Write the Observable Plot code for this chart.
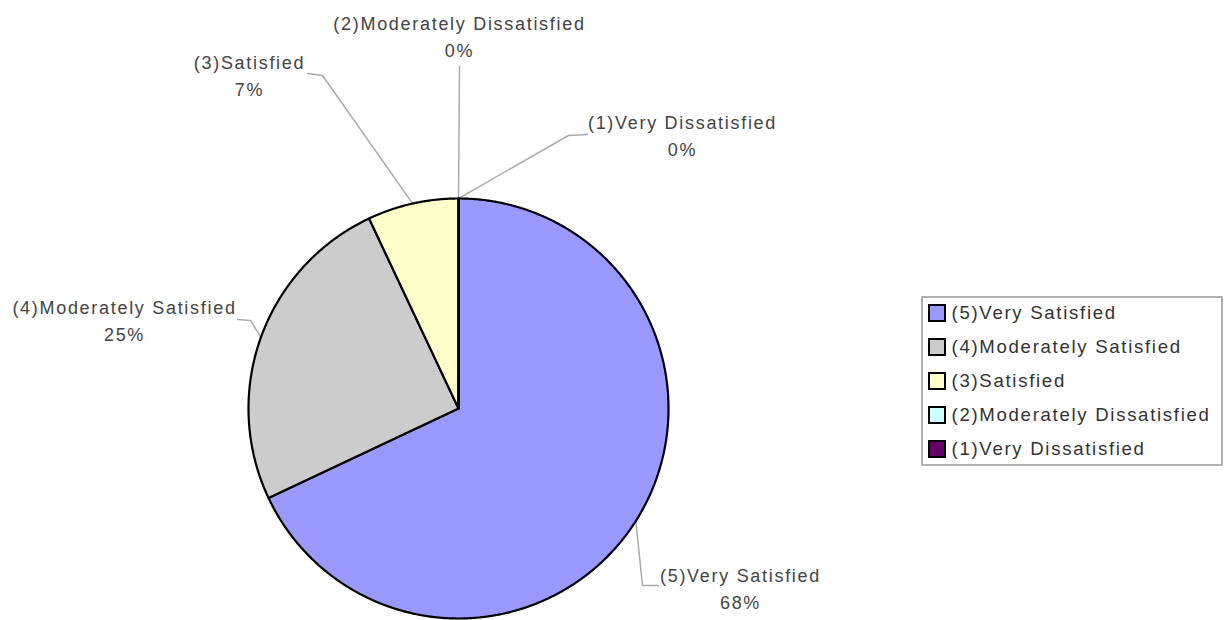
<!DOCTYPE html>
<html>
<head>
<meta charset="utf-8">
<script src="https://cdn.jsdelivr.net/npm/d3@7"></script>
<script src="https://cdn.jsdelivr.net/npm/@observablehq/plot@0.6"></script>
<style>
  html, body { margin: 0; padding: 0; background: #fff; }
  #chart svg { display: block; }
</style>
</head>
<body>
<div id="chart"></div>
<script>
// ---- data ----
const categories = ["(5)Very Satisfied", "(4)Moderately Satisfied", "(3)Satisfied", "(2)Moderately Dissatisfied", "(1)Very Dissatisfied"];
const percents = [68, 25, 7, 0, 0];
const colors = ["#9999FF", "#CCCCCC", "#FFFFCC", "#CCFFFF", "#660066"];

// ---- layout (pixels) ----
const W = 1230, H = 620;
const pieC = {cx: 458, cy: 408, r: 210};
// leader line elbow/end and label centre for each category
const labelElbow = [[642, 585], [250, 320], [322, 75], [459, 66], [568, 135]];
const labelEnd   = [[658, 585], [237, 319], [307, 73], [459, 66], [587, 134]];
const labelText  = [[740, 586], [124, 318], [249, 73], [459, 34], [682, 133]];
const legendBox = {x1: 922, x2: 1222, y1: 297, y2: 465};
const legendRow0 = 313, legendRowStep = 34, legendSwatchX = 929, legendSwatch = 16, legendTextX = 951;

const data = categories.map((c, i) => ({category: c, value: percents[i], i}));
const arcs = d3.pie().sort(null).value(d => d.value)(data);

const px = (a, r) => pieC.cx + r * Math.sin(a);
const py = (a, r) => pieC.cy - r * Math.cos(a);

// slice polygons
const sliceRows = [];
for (const a of arcs) {
  const c = a.data.category;
  sliceRows.push({category: c, x: pieC.cx, y: pieC.cy});
  const n = Math.max(2, Math.ceil((a.endAngle - a.startAngle) / 0.005));
  for (let k = 0; k <= n; k++) {
    const t = a.startAngle + (a.endAngle - a.startAngle) * k / n;
    sliceRows.push({category: c, x: px(t, pieC.r), y: py(t, pieC.r)});
  }
  sliceRows.push({category: c, x: pieC.cx, y: pieC.cy});
}

// leader lines
const leaderRows = [];
arcs.forEach((a, i) => {
  const c = a.data.category;
  const m = (a.startAngle + a.endAngle) / 2;
  leaderRows.push({category: c, x: px(m, pieC.r), y: py(m, pieC.r)});
  leaderRows.push({category: c, x: labelElbow[i][0], y: labelElbow[i][1]});
  leaderRows.push({category: c, x: labelEnd[i][0], y: labelEnd[i][1]});
});

const labelRows = arcs.map((a, i) => ({
  category: a.data.category,
  x: labelText[i][0], y: labelText[i][1],
  text: `${a.data.category}\n${Math.round(a.data.value)}%`
}));

const legendRows = categories.map((c, i) => ({
  category: c,
  y: legendRow0 + i * legendRowStep
}));

const chart = Plot.plot({
  width: W,
  height: H,
  margin: 0,
  x: {domain: [0, W], range: [0, W], axis: null},
  y: {domain: [0, H], range: [0, H], axis: null},
  color: {domain: categories, range: colors},
  style: {fontFamily: "'Liberation Sans', Arial, sans-serif", letterSpacing: "1.7px", background: "#fff"},
  marks: [
    Plot.line(leaderRows, {x: "x", y: "y", z: "category", stroke: "#aaaaaa", strokeWidth: 1.5, curve: "linear"}),
    Plot.line(sliceRows, {x: "x", y: "y", z: "category", fill: "category", stroke: "#000", strokeWidth: 2.2, strokeLinejoin: "round", curve: "linear"}),
    Plot.text(labelRows, {x: "x", y: "y", text: "text", fontSize: 18, lineHeight: 1.5, lineAnchor: "middle", textAnchor: "middle", fill: "#444"}),
    // legend
    Plot.rect([legendBox], {x1: "x1", x2: "x2", y1: "y1", y2: "y2", fill: "none", stroke: "#999", strokeWidth: 1.5}),
    Plot.rect(legendRows, {x1: () => legendSwatchX, x2: () => legendSwatchX + legendSwatch, y1: d => d.y - legendSwatch / 2, y2: d => d.y + legendSwatch / 2, fill: "category", stroke: "#000", strokeWidth: 2}),
    Plot.text(legendRows, {x: () => legendTextX, y: "y", text: "category", fontSize: 18.6, textAnchor: "start", fill: "#333"})
  ]
});
document.getElementById("chart").appendChild(chart);
</script>
</body>
</html>
